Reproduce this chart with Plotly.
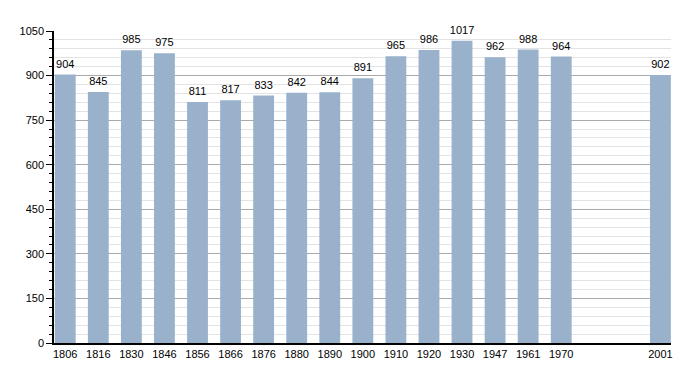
import plotly.graph_objects as go

years = ["1806", "1816", "1830", "1846", "1856", "1866", "1876", "1880", "1890",
         "1900", "1910", "1920", "1930", "1947", "1961", "1970", "2001"]
population = [904, 845, 985, 975, 811, 817, 833, 842, 844,
              891, 965, 986, 1017, 962, 988, 964, 902]
slots = [0, 1, 2, 3, 4, 5, 6, 7, 8, 9, 10, 11, 12, 13, 14, 15, 18]
y_ticks = [0, 150, 300, 450, 600, 750, 900, 1050]

FONT = "Liberation Sans, Arial, sans-serif"

fig = go.Figure()
fig.add_trace(go.Bar(
    x=slots, y=population, width=0.63,
    marker=dict(color="#99b1ca", line=dict(width=0)),
    hoverinfo="x+y",
))
fig.add_trace(go.Scatter(
    x=slots, y=population, mode="markers+text",
    marker=dict(size=5, color="rgba(0,0,0,0)"),
    text=[str(v) for v in population], textposition="top center",
    textfont=dict(family=FONT, size=11, color="#000"),
    cliponaxis=False, hoverinfo="skip",
))

# page body has an 8px margin, so the figure is sized 692x365
fig.update_layout(
    width=692, height=365,
    margin=dict(l=41, r=29, t=23, b=30),
    paper_bgcolor="white", plot_bgcolor="white",
    showlegend=False,
    font=dict(family=FONT, size=11, color="#000"),
)
fig.update_xaxes(
    range=[-0.34, 18.32], tickmode="array", tickvals=slots, ticktext=years,
    showgrid=False, showline=True, linecolor="#000", linewidth=1.5,
    ticks="", zeroline=False, tickfont=dict(size=11),
)
fig.update_yaxes(
    range=[0, 1050], tickmode="array", tickvals=y_ticks,
    showgrid=True, gridcolor="#aaaaaa", gridwidth=1,
    showline=True, linecolor="#000", linewidth=1.5,
    ticks="outside", ticklen=6, tickcolor="#000",
    zeroline=False, tickfont=dict(size=11),
    minor=dict(dtick=30, showgrid=True, gridcolor="#e3e3e3", ticks="outside",
               ticklen=3, tickcolor="#000"),
)

fig.write_html("out.html")
